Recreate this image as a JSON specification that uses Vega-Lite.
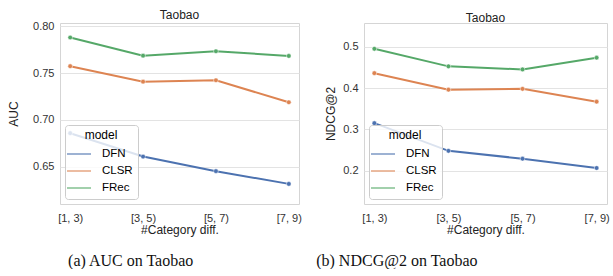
{
  "$schema": "https://vega.github.io/schema/vega-lite/v6.json",
  "padding": {"left": 7, "top": 8, "right": 2, "bottom": 0},
  "background": "white",
  "config": {
    "font": "Liberation Sans",
    "view": {"stroke": "#d5d5d5", "strokeWidth": 1},
    "axis": {"labelFont": "Liberation Sans", "titleFont": "Liberation Sans", "labelFontSize": 11, "titleFontSize": 12, "titleFontWeight": "normal", "labelColor": "#333", "titleColor": "#222", "ticks": false, "domain": false, "gridColor": "#e3e3e3", "gridWidth": 1},
    "title": {"font": "Liberation Sans", "fontSize": 12, "fontWeight": "normal", "color": "#222"},
    "legend": {"titleFont": "Liberation Sans", "labelFont": "Liberation Sans"}
  },
  "datasets": {
    "auc": [
      {"bin": "[1, 3)", "model": "DFN", "v": 0.6857},
      {"bin": "[3, 5)", "model": "DFN", "v": 0.6607},
      {"bin": "[5, 7)", "model": "DFN", "v": 0.6451},
      {"bin": "[7, 9)", "model": "DFN", "v": 0.6315},
      {"bin": "[1, 3)", "model": "CLSR", "v": 0.7573},
      {"bin": "[3, 5)", "model": "CLSR", "v": 0.7408},
      {"bin": "[5, 7)", "model": "CLSR", "v": 0.7423},
      {"bin": "[7, 9)", "model": "CLSR", "v": 0.7188},
      {"bin": "[1, 3)", "model": "FRec", "v": 0.788},
      {"bin": "[3, 5)", "model": "FRec", "v": 0.7686},
      {"bin": "[5, 7)", "model": "FRec", "v": 0.7733},
      {"bin": "[7, 9)", "model": "FRec", "v": 0.7683}
    ],
    "ndcg": [
      {"bin": "[1, 3)", "model": "DFN", "v": 0.315},
      {"bin": "[3, 5)", "model": "DFN", "v": 0.248},
      {"bin": "[5, 7)", "model": "DFN", "v": 0.229},
      {"bin": "[7, 9)", "model": "DFN", "v": 0.2065},
      {"bin": "[1, 3)", "model": "CLSR", "v": 0.436},
      {"bin": "[3, 5)", "model": "CLSR", "v": 0.396},
      {"bin": "[5, 7)", "model": "CLSR", "v": 0.398},
      {"bin": "[7, 9)", "model": "CLSR", "v": 0.367},
      {"bin": "[1, 3)", "model": "FRec", "v": 0.495},
      {"bin": "[3, 5)", "model": "FRec", "v": 0.4525},
      {"bin": "[5, 7)", "model": "FRec", "v": 0.445},
      {"bin": "[7, 9)", "model": "FRec", "v": 0.4734}
    ]
  },
  "resolve": {"scale": {"color": "independent"}, "legend": {"color": "independent"}},
  "spacing": 14,
  "hconcat": [
    {
      "title": {"text": "(a)  AUC on Taobao", "orient": "bottom", "anchor": "start", "frame": "bounds", "dx": 61, "offset": 17, "font": "Liberation Serif", "fontSize": 16, "color": "#111"},
      "resolve": {"scale": {"color": "independent"}, "legend": {"color": "independent"}},
      "vconcat": [
        {
          "width": 239,
          "height": 181,
          "title": {"text": "Taobao", "offset": -2},
          "data": {"name": "auc"},
          "encoding": {
            "x": {"field": "bin", "type": "ordinal", "scale": {"type": "point", "padding": 0.14}, "sort": ["[1, 3)", "[3, 5)", "[5, 7)", "[7, 9)"], "axis": {"title": "#Category diff.", "labelAngle": 0, "grid": false, "labelPadding": 8, "titlePadding": 1}},
            "y": {"field": "v", "type": "quantitative", "scale": {"domain": [0.61, 0.8035], "zero": false, "nice": false}, "axis": {"title": "AUC", "values": [0.65, 0.70, 0.75, 0.80], "format": ".2f", "labelPadding": 6, "titlePadding": 12}},
            "color": {"field": "model", "type": "nominal", "sort": ["DFN", "CLSR", "FRec"], "scale": {"domain": ["DFN", "CLSR", "FRec"], "range": ["#4c72b0", "#dd8452", "#55a868"]},
              "legend": {"orient": "bottom-left", "offset": 5, "title": "model", "titleFontSize": 12, "titleFontWeight": "normal", "titleAnchor": "middle", "labelFontSize": 11.5, "symbolType": "M-1.5,0H1.5", "symbolSize": 256, "symbolStrokeWidth": 1.2, "symbolOpacity": 0.9, "fillColor": "rgba(255,255,255,0.8)", "strokeColor": "#cccccc", "cornerRadius": 3, "padding": 5, "rowPadding": 2, "labelOffset": 14, "titlePadding": 3}}
          },
          "layer": [
            {"mark": {"type": "line", "strokeWidth": 2}},
            {"mark": {"type": "circle", "size": 22, "opacity": 1, "stroke": "white", "strokeWidth": 0.5}}
          ]
        }
      ]
    },
    {
      "title": {"text": "(b)  NDCG@2 on Taobao", "orient": "bottom", "anchor": "start", "frame": "bounds", "dx": -8, "offset": 17, "font": "Liberation Serif", "fontSize": 16, "color": "#111"},
      "resolve": {"scale": {"color": "independent"}, "legend": {"color": "independent"}},
      "vconcat": [
        {
          "width": 243,
          "height": 181,
          "title": {"text": "Taobao", "offset": -2},
          "data": {"name": "ndcg"},
          "encoding": {
            "x": {"field": "bin", "type": "ordinal", "scale": {"type": "point", "padding": 0.14}, "sort": ["[1, 3)", "[3, 5)", "[5, 7)", "[7, 9)"], "axis": {"title": "#Category diff.", "labelAngle": 0, "grid": false, "labelPadding": 8, "titlePadding": 1}},
            "y": {"field": "v", "type": "quantitative", "scale": {"domain": [0.1194, 0.5574], "zero": false, "nice": false}, "axis": {"title": "NDCG@2", "values": [0.2, 0.3, 0.4, 0.5], "format": ".1f", "labelPadding": 6, "titlePadding": 5}},
            "color": {"field": "model", "type": "nominal", "sort": ["DFN", "CLSR", "FRec"], "scale": {"domain": ["DFN", "CLSR", "FRec"], "range": ["#4c72b0", "#dd8452", "#55a868"]},
              "legend": {"orient": "bottom-left", "offset": 5, "title": "model", "titleFontSize": 12, "titleFontWeight": "normal", "titleAnchor": "middle", "labelFontSize": 11.5, "symbolType": "M-1.5,0H1.5", "symbolSize": 256, "symbolStrokeWidth": 1.2, "symbolOpacity": 0.9, "fillColor": "rgba(255,255,255,0.8)", "strokeColor": "#cccccc", "cornerRadius": 3, "padding": 5, "rowPadding": 2, "labelOffset": 14, "titlePadding": 3}}
          },
          "layer": [
            {"mark": {"type": "line", "strokeWidth": 2}},
            {"mark": {"type": "circle", "size": 22, "opacity": 1, "stroke": "white", "strokeWidth": 0.5}}
          ]
        }
      ]
    }
  ]
}
